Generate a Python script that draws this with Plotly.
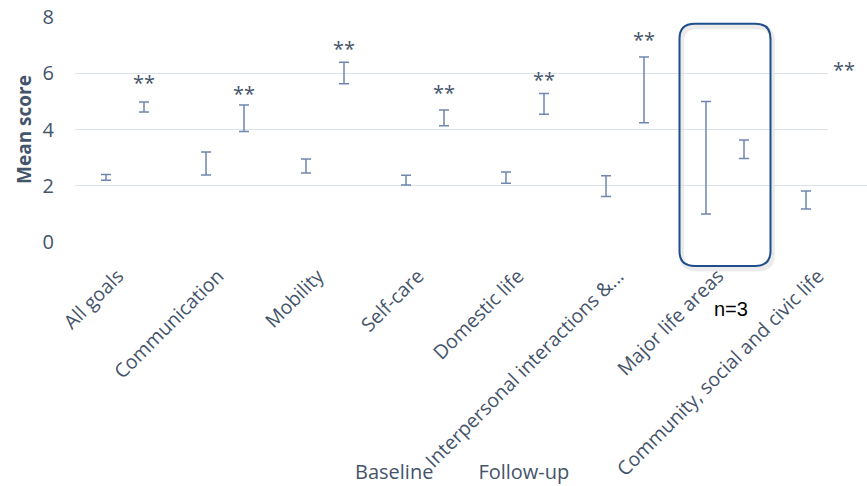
import plotly.graph_objects as go

# ---------------- data ----------------
categories = ["All goals", "Communication", "Mobility", "Self-care", "Domestic life",
              "Interpersonal interactions &...", "Major life areas",
              "Community, social and civic life"]
baseline_mean = [2.30, 2.79, 2.70, 2.20, 2.29, 1.99, 3.00, 1.49]
baseline_err = [0.10, 0.41, 0.25, 0.17, 0.20, 0.37, 2.00, 0.32]
followup_mean = [4.80, 4.40, 6.01, 4.41, 4.91, 5.41, 3.30, None]
followup_err = [0.18, 0.47, 0.38, 0.28, 0.37, 1.17, 0.33, 0]
sig_marks = ["**", "**", "**", "**", "**", "**", "", "**"]
sig_y = [5.75, 5.35, 6.96, 5.37, 5.86, 7.28, None, 6.20]
y_ticks = [0, 2, 4, 6, 8]

# ---------------- style ----------------
TEXT = "#44546A"
BAR = "#6F87AF"
GRID = "#DCE2EA"
BOX = "#1F4E8C"
FONT = "Open Sans"
off = 0.19
xr = [-0.5, 7.42]
yr = [0, 8]

idx = list(range(len(categories)))

fig = go.Figure()
fig.add_trace(go.Scatter(
    x=[i - off for i in idx], y=baseline_mean, name="Baseline", mode="markers",
    marker=dict(color="rgba(0,0,0,0)", size=1), cliponaxis=False,
    error_y=dict(type="data", array=baseline_err, color=BAR, thickness=1.5, width=5)))
fig.add_trace(go.Scatter(
    x=[i + off for i in idx], y=followup_mean, name="Follow-up", mode="markers",
    marker=dict(color="rgba(0,0,0,0)", size=1), cliponaxis=False,
    error_y=dict(type="data", array=followup_err, color=BAR, thickness=1.5, width=5)))

# significance stars
for i, (s, yy) in enumerate(zip(sig_marks, sig_y)):
    if s and yy is not None:
        fig.add_annotation(x=i + off, y=yy, text=s, showarrow=False, yshift=-2,
                           font=dict(family=FONT, size=20, color=TEXT))

def px_x(v):
    return (v - xr[0]) / (xr[1] - xr[0])

def px_y(v):
    return (v - yr[0]) / (yr[1] - yr[0])

# rounded highlight box around "Major life areas"
hl = 6
x0, x1 = px_x(hl - 0.455), px_x(hl + 0.455)
y0, y1 = px_y(-0.85), px_y(7.76)
rx, ry = 15 / 792, 15 / 225

def rounded(x0, x1, y0, y1):
    return (f"M {x0+rx},{y1} L {x1-rx},{y1} Q {x1},{y1} {x1},{y1-ry} "
            f"L {x1},{y0+ry} Q {x1},{y0} {x1-rx},{y0} L {x0+rx},{y0} "
            f"Q {x0},{y0} {x0},{y0+ry} L {x0},{y1-ry} Q {x0},{y1} {x0+rx},{y1} Z")

sdx, sdy = 2 / 792, -3 / 225
fig.add_shape(type="path", xref="paper", yref="paper",
              path=rounded(x0 + sdx, x1 + sdx, y0 + sdy, y1 + sdy),
              line=dict(color="rgba(0,0,0,0.08)", width=5), layer="below")
fig.add_shape(type="path", xref="paper", yref="paper",
              path=rounded(x0, x1, y0, y1),
              line=dict(color=BOX, width=2), layer="above")

# white patch on the right edge
fig.add_shape(type="rect", xref="paper", yref="paper",
              x0=px_x(7.03), x1=1.02, y0=px_y(3.27), y1=px_y(6.12),
              fillcolor="white", line=dict(width=0), layer="above")

fig.add_annotation(x=hl + 0.055, xref="x", y=px_y(-2.84), yref="paper", text="n=3",
                   showarrow=False,
                   font=dict(family="Liberation Sans, Arial", size=20, color="black"))

fig.update_layout(
    width=867, height=486,
    margin=dict(l=75, r=0, t=17, b=244, autoexpand=False),
    paper_bgcolor="white", plot_bgcolor="white",
    font=dict(family=FONT, color=TEXT),
    showlegend=True,
    legend=dict(orientation="h", x=(315 - 75) / 792,
                xanchor="left", y=-1.02, yanchor="middle",
                font=dict(family=FONT, size=20, color=TEXT),
                bgcolor="rgba(0,0,0,0)"),
    xaxis=dict(range=xr, tickmode="array", tickvals=idx, ticktext=categories,
               tickangle=-45, tickfont=dict(family=FONT, size=19.5, color=TEXT),
               showgrid=False, zeroline=False, showline=False, automargin=False,
               ticks="outside", ticklen=14, tickcolor="rgba(0,0,0,0)",
               ticklabelshift=-7),
    yaxis=dict(range=yr, tickmode="array", tickvals=y_ticks,
               tickfont=dict(family=FONT, size=20, color=TEXT),
               showgrid=True, gridcolor=GRID, gridwidth=1, zeroline=False, showline=False,
               automargin=False,
               ticks="outside", ticklen=16, tickcolor="rgba(0,0,0,0)",
               title=dict(text="<b>Mean score</b>", font=dict(family=FONT, size=19, color=TEXT),
                          standoff=5)),
)

fig.write_html("out.html", config={"displayModeBar": False},
               post_script="document.body.style.margin='0';")
